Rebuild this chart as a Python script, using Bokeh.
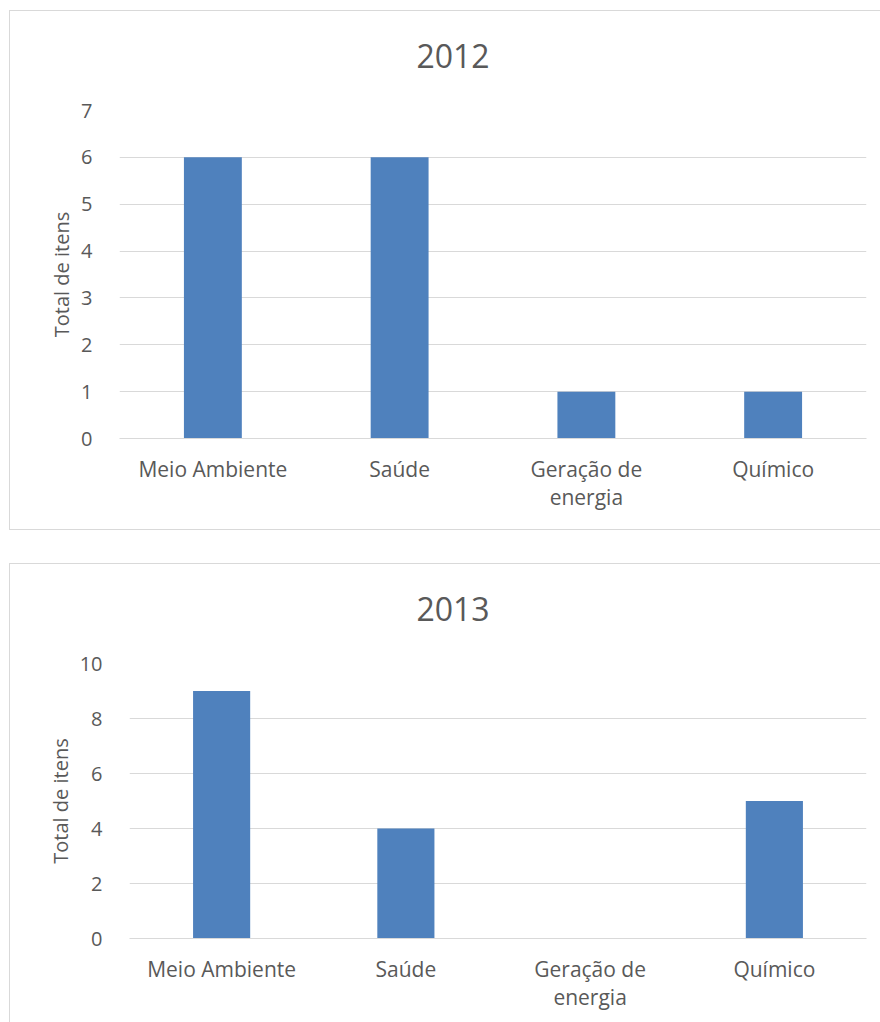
from bokeh.plotting import figure
from bokeh.layouts import column
from bokeh.models import FixedTicker, Range1d, Div
from bokeh.embed import file_html
from bokeh.resources import INLINE

categories = ["Meio Ambiente", "Saúde", "Geração de\nenergia", "Químico"]
values_2012 = [6, 6, 1, 1]
values_2013 = [9, 4, 0, 5]
ticks_2012 = [0, 1, 2, 3, 4, 5, 6, 7]
ticks_2013 = [0, 2, 4, 6, 8, 10]
y_label = "Total de itens"

TEXT = "#595959"
GRID = "#d9d9d9"
BAR = "#4F81BD"
FONT = "Open Sans"

xpos = list(range(len(categories)))

W = 871
TITLE_H = 80


def make(title, values, ticks, height, left, bottom, top, styles, margin):
    div = Div(text=title, width=W, height=TITLE_H, margin=(0, 0, 0, 0),
              styles={"font-family": FONT, "font-size": "32px", "line-height": "1",
                      "color": TEXT, "text-align": "center", "padding-left": "15px",
                      "padding-top": "29px", "box-sizing": "border-box",
                      "background-color": "white"})
    p = figure(x_range=Range1d(-0.5, len(categories) - 0.5), y_range=(0, ticks[-1]),
               width=W, height=height - TITLE_H,
               output_backend="svg", toolbar_location=None,
               min_border_left=left, min_border_right=15,
               min_border_top=top, min_border_bottom=bottom)
    p.margin = (0, 0, 0, 0)
    p.vbar(x=xpos, top=values, width=0.31, color=BAR, line_color=None)
    p.outline_line_color = None
    p.background_fill_color = "white"
    p.border_fill_color = "white"
    p.xgrid.grid_line_color = None
    p.ygrid.grid_line_color = GRID
    p.ygrid.grid_line_width = 1
    p.yaxis.ticker = FixedTicker(ticks=ticks)
    p.yaxis.axis_line_color = None
    p.yaxis.major_tick_line_color = None
    p.yaxis.minor_tick_line_color = None
    p.yaxis.major_label_standoff = 21
    p.yaxis.major_label_text_font_size = "20px"
    p.yaxis.major_label_text_font = FONT
    p.yaxis.major_label_text_color = TEXT
    p.yaxis.axis_label = y_label
    p.yaxis.axis_label_text_font = FONT
    p.yaxis.axis_label_text_font_size = "20px"
    p.yaxis.axis_label_text_font_style = "normal"
    p.yaxis.axis_label_text_color = TEXT
    p.yaxis.axis_label_standoff = 3
    p.xaxis.ticker = FixedTicker(ticks=xpos)
    p.xaxis.major_label_overrides = dict(zip(xpos, categories))
    p.xaxis.axis_line_color = GRID
    p.xaxis.axis_line_width = 1
    p.xaxis.major_tick_line_color = None
    p.xaxis.minor_tick_line_color = None
    p.xaxis.major_label_text_font = FONT
    p.xaxis.major_label_text_font_size = "21px"
    p.xaxis.major_label_text_color = TEXT
    p.xaxis.major_label_text_line_height = 1.0
    p.xaxis.major_label_standoff = 10
    box = column(div, p, spacing=0)
    box.styles = styles
    box.margin = margin
    return box


c1 = make("2012", values_2012, ticks_2012, 518, 109, 91, 19,
          {"border-left": "1px solid #d9d9d9", "border-top": "1px solid #d9d9d9",
           "border-bottom": "1px solid #d9d9d9"}, (10, 0, 0, 9))
c2 = make("2013", values_2013, ticks_2013, 458, 119, 84, 19,
          {"border-left": "1px solid #d9d9d9", "border-top": "1px solid #d9d9d9"}, (33, 0, 0, 9))

layout = column(c1, c2)
open("out.html", "w").write(file_html(layout, INLINE))
